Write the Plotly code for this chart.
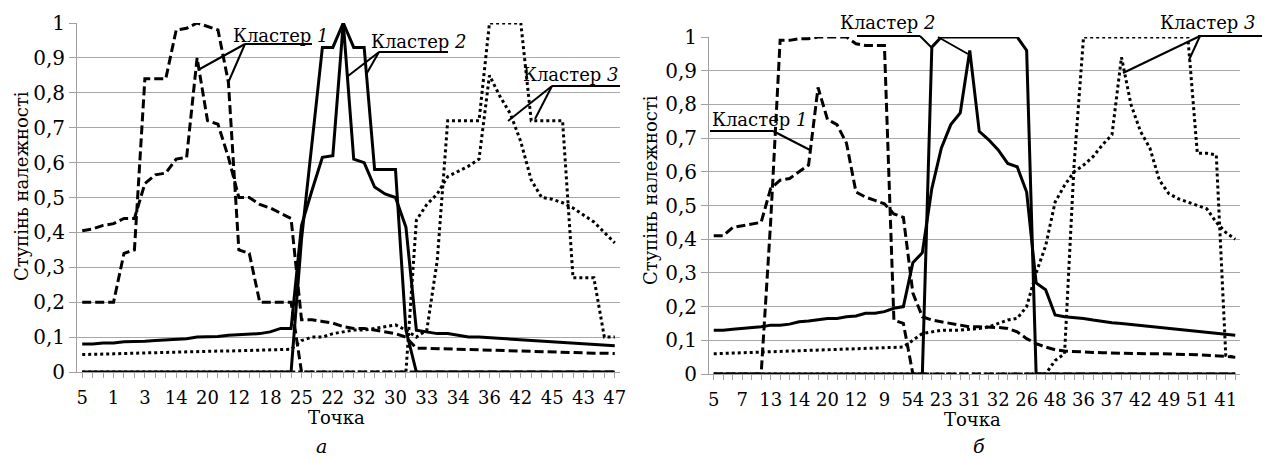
import plotly.graph_objects as go

W, H = 1267, 458
FONT = "DejaVu Serif"

# ---------------- panel a ----------------
a_tick_labels = ["5", "1", "3", "14", "20", "12", "18", "25", "22", "32",
                 "30", "33", "34", "36", "42", "45", "43", "47"]
a_c1_step = [0.2, 0.2, 0.2, 0.2, 0.34, 0.35, 0.84, 0.84, 0.84, 0.98, 0.985, 1.0, 0.99, 0.98,
             0.83, 0.35, 0.34, 0.2, 0.2, 0.2, 0.2] + [0.0] * 31
a_c1_fuzzy = [0.405, 0.41, 0.42, 0.425, 0.44, 0.44, 0.54, 0.565, 0.57, 0.61, 0.615, 0.9, 0.72,
              0.71, 0.615, 0.5, 0.5, 0.48, 0.47, 0.455, 0.44,
              0.15, 0.15, 0.145, 0.14, 0.13, 0.125, 0.125, 0.12, 0.115, 0.11, 0.1,
              0.068, 0.068, 0.067, 0.067, 0.066, 0.065, 0.064, 0.063, 0.062, 0.061, 0.06,
              0.059, 0.058, 0.057, 0.056, 0.055, 0.055, 0.054, 0.054, 0.053]
a_c2_step = [0.0] * 21 + [0.38, 0.65, 0.93, 0.93, 1.0, 0.93, 0.93, 0.58, 0.58, 0.58, 0.12] + [0.0] * 20
a_c2_fuzzy = [0.08, 0.08, 0.083, 0.083, 0.087, 0.087, 0.088, 0.09, 0.092, 0.095, 0.095, 0.1, 0.1,
              0.102, 0.105, 0.107, 0.11, 0.11, 0.115, 0.125, 0.125,
              0.42, 0.52, 0.615, 0.62, 1.0, 0.61, 0.6, 0.53, 0.51, 0.5, 0.415,
              0.12, 0.115, 0.11, 0.11, 0.105, 0.1, 0.1, 0.098, 0.097, 0.095, 0.093, 0.09,
              0.088, 0.086, 0.085, 0.083, 0.08, 0.078, 0.076, 0.075]
a_c3_step = [0.05, 0.05, 0.051, 0.052, 0.053, 0.054, 0.055, 0.055, 0.056, 0.057, 0.058, 0.058,
             0.059, 0.06, 0.06, 0.061, 0.062, 0.062, 0.063, 0.064, 0.065,
             0.09, 0.1, 0.1, 0.11, 0.115, 0.12, 0.12, 0.125, 0.13, 0.135, 0.12, 0.1, 0.12, 0.32,
             0.72, 0.72, 0.72, 0.72, 1.0, 1.0, 1.0, 1.0, 0.72, 0.72, 0.72, 0.72,
             0.27, 0.27, 0.27, 0.1, 0.1]
a_c3_fuzzy = [0.0] * 32 + [0.435, 0.48, 0.51, 0.56, 0.575, 0.59, 0.61, 0.85, 0.79, 0.74, 0.66,
                           0.55, 0.5, 0.495, 0.485, 0.47, 0.45, 0.43, 0.4, 0.37]

# ---------------- panel б ----------------
b_tick_labels = ["5", "7", "13", "14", "20", "12", "9", "54", "23", "31", "32", "26",
                 "48", "36", "37", "42", "49", "51", "41"]
b_c1_step = [0.0] * 6 + [0.45, 0.99, 0.99, 0.995, 0.995, 1.0, 1.0, 1.0, 1.0, 0.98,
                         0.975, 0.975, 0.975, 0.16, 0.15] + [0.0] * 35
b_c1_fuzzy = [0.41, 0.41, 0.435, 0.44, 0.445, 0.45, 0.55, 0.575, 0.58, 0.6, 0.62, 0.85, 0.755,
              0.74, 0.685, 0.54, 0.525, 0.515, 0.505, 0.475, 0.465,
              0.24, 0.17, 0.16, 0.155, 0.15, 0.145, 0.14, 0.14, 0.14, 0.138, 0.135, 0.125,
              0.105, 0.09, 0.08, 0.072, 0.068,
              0.066, 0.065, 0.064, 0.063, 0.062, 0.062, 0.061, 0.06, 0.06, 0.06, 0.06, 0.059,
              0.058, 0.057, 0.056, 0.055, 0.052, 0.05]
b_c2_step = [0.0] * 23 + [0.97] + [1.0] * 9 + [0.96] + [0.0] * 22
b_c2_fuzzy = [0.13, 0.13, 0.133, 0.135, 0.137, 0.14, 0.145, 0.145, 0.148, 0.155, 0.157, 0.16,
              0.165, 0.165, 0.17, 0.172, 0.18, 0.18, 0.185, 0.195, 0.2,
              0.33, 0.36, 0.55, 0.67, 0.74, 0.775, 0.96, 0.72, 0.695, 0.665, 0.625, 0.615,
              0.54, 0.27, 0.25, 0.175,
              0.17, 0.168, 0.165, 0.16, 0.155, 0.152, 0.15, 0.147, 0.145, 0.14, 0.138, 0.135,
              0.133, 0.13, 0.127, 0.124, 0.121, 0.118, 0.115]
b_c3_low = [0.06, 0.06, 0.062, 0.063, 0.064, 0.065, 0.066, 0.067, 0.068, 0.069, 0.07, 0.071,
            0.072, 0.073, 0.074, 0.075, 0.076, 0.077, 0.078, 0.079, 0.08,
            0.1, 0.12, 0.125, 0.13, 0.13, 0.13, 0.133, 0.135, 0.14, 0.15, 0.16, 0.165, 0.2,
            0.3, 0.38,
            0.51, 0.56, 0.6, 0.62, 0.645, 0.68, 0.71, 0.94, 0.8, 0.72, 0.67, 0.575, 0.535,
            0.52, 0.51, 0.5, 0.49, 0.45, 0.42, 0.4]
b_c3_zero = [0.0] * 36 + [0.04, 0.06, 0.62] + [1.0] * 12 + [0.655, 0.655, 0.65, 0.055, 0.05]

y_tick_vals = [0, 0.1, 0.2, 0.3, 0.4, 0.5, 0.6, 0.7, 0.8, 0.9, 1.0]
y_tick_text = ["0", "0,1", "0,2", "0,3", "0,4", "0,5", "0,6", "0,7", "0,8", "0,9", "1"]
LABEL_STEP = 3

STYLE = {
    "dash": dict(color="black", width=3, dash="9px,4px"),
    "solid": dict(color="black", width=3, dash="solid"),
    "dot": dict(color="black", width=3, dash="3px,3px"),
}

fig = go.Figure()

panels = [
    ("x", "y", [(a_c3_step, "dot"), (a_c3_fuzzy, "dot"), (a_c1_step, "dash"),
                (a_c1_fuzzy, "dash"), (a_c2_fuzzy, "solid"), (a_c2_step, "solid")]),
    ("x2", "y2", [(b_c3_low, "dot"), (b_c3_zero, "dot"), (b_c1_step, "dash"),
                  (b_c1_fuzzy, "dash"), (b_c2_fuzzy, "solid"), (b_c2_step, "solid")]),
]
for xa, ya, series in panels:
    for vals, st in series:
        fig.add_trace(go.Scatter(x=list(range(len(vals))), y=vals, mode="lines",
                                 line=STYLE[st], xaxis=xa, yaxis=ya,
                                 showlegend=False, hoverinfo="skip"))


def px_dom_x(x0, x1):
    return [x0 / W, x1 / W]


def px_dom_y(ybot, ytop):
    return [1 - ybot / H, 1 - ytop / H]


def xaxis_cfg(n, labels, dom):
    vals = list(range(n))
    text = [labels[i // LABEL_STEP] if i % LABEL_STEP == 0 and i // LABEL_STEP < len(labels) else ""
            for i in vals]
    return dict(domain=dom, range=[-0.5, n - 0.5], tickmode="array", tickvals=vals,
                ticktext=text, ticks="outside", ticklen=5, tickcolor="#a0a0a0", tickwidth=1,
                ticklabelstandoff=4, tickangle=0, automargin=False,
                showline=True, linecolor="#a0a0a0", linewidth=1, showgrid=False,
                zeroline=False, tickfont=dict(family=FONT, size=18, color="black"),
                fixedrange=True)


def yaxis_cfg(dom, anchor):
    return dict(domain=dom, range=[0, 1], tickmode="array", tickvals=y_tick_vals,
                ticktext=y_tick_text, ticks="outside", ticklen=7, tickcolor="#a0a0a0",
                showline=True, linecolor="#a0a0a0", linewidth=1, showgrid=True,
                gridcolor="#a8a8a8", gridwidth=1, zeroline=False, anchor=anchor,
                automargin=False,
                tickfont=dict(family=FONT, size=20, color="black"), fixedrange=True)


n_a, n_b = len(a_c1_step), len(b_c1_step)
fig.update_layout(
    width=W, height=H, autosize=False,
    margin=dict(l=0, r=0, t=0, b=0, pad=0, autoexpand=False),
    paper_bgcolor="white", plot_bgcolor="white", showlegend=False,
    font=dict(family=FONT),
    xaxis=xaxis_cfg(n_a, a_tick_labels, px_dom_x(77, 620)) | dict(anchor="y"),
    yaxis=yaxis_cfg(px_dom_y(372, 23), "x"),
    xaxis2=xaxis_cfg(n_b, b_tick_labels, px_dom_x(709, 1240)) | dict(anchor="y2"),
    yaxis2=yaxis_cfg(px_dom_y(374, 37), "x2"),
)


def P(x, y):
    return x / W, 1 - y / H


annots = []


def text_at(x, y, s, size=18, angle=0):
    px, py = P(x, y)
    annots.append(dict(x=px, y=py, xref="paper", yref="paper", text=s, showarrow=False,
                       xanchor="center", yanchor="middle", textangle=angle,
                       font=dict(family=FONT, size=size, color="black")))


# cluster labels
text_at(281, 35, "Кластер <i>1</i>")
text_at(419, 42, "Кластер <i>2</i>")
text_at(571, 74, "Кластер <i>3</i>")
text_at(760, 119, "Кластер <i>1</i>")
text_at(888, 23, "Кластер <i>2</i>")
text_at(1208, 23, "Кластер <i>3</i>")
# axis titles
text_at(336, 417, "Точка")
text_at(972, 419, "Точка")
text_at(22, 186, "Ступінь належності", size=18, angle=-90)
text_at(651, 190, "Ступінь належності", size=18, angle=-90)
text_at(321, 446, "<i>а</i>", size=19)
text_at(979, 446, "<i>б</i>", size=19)

callout_lines = [
    # panel a
    ((245, 44), (312, 44)), ((245, 44), (198, 70)), ((245, 44), (228, 83)),
    ((379, 52), (448, 52)), ((379, 52), (348, 76)), ((379, 52), (367, 73)),
    ((552, 86), (620, 86)), ((552, 86), (508, 121)), ((552, 86), (535, 119)),
    # panel б
    ((710, 131), (773, 131)), ((773, 131), (810, 150)),
    ((857, 36), (920, 36)), ((920, 36), (932, 48)), ((938, 37), (968, 54)),
    ((1198, 36), (1262, 36)), ((1200, 36), (1123, 73)), ((1200, 36), (1189, 60)),
]
shapes = []
for (x0, y0), (x1, y1) in callout_lines:
    p0, p1 = P(x0, y0), P(x1, y1)
    shapes.append(dict(type="line", xref="paper", yref="paper", x0=p0[0], y0=p0[1],
                       x1=p1[0], y1=p1[1], line=dict(color="black", width=2)))

fig.update_layout(annotations=annots, shapes=shapes)
fig.write_html("out.html", config={"displayModeBar": False})
